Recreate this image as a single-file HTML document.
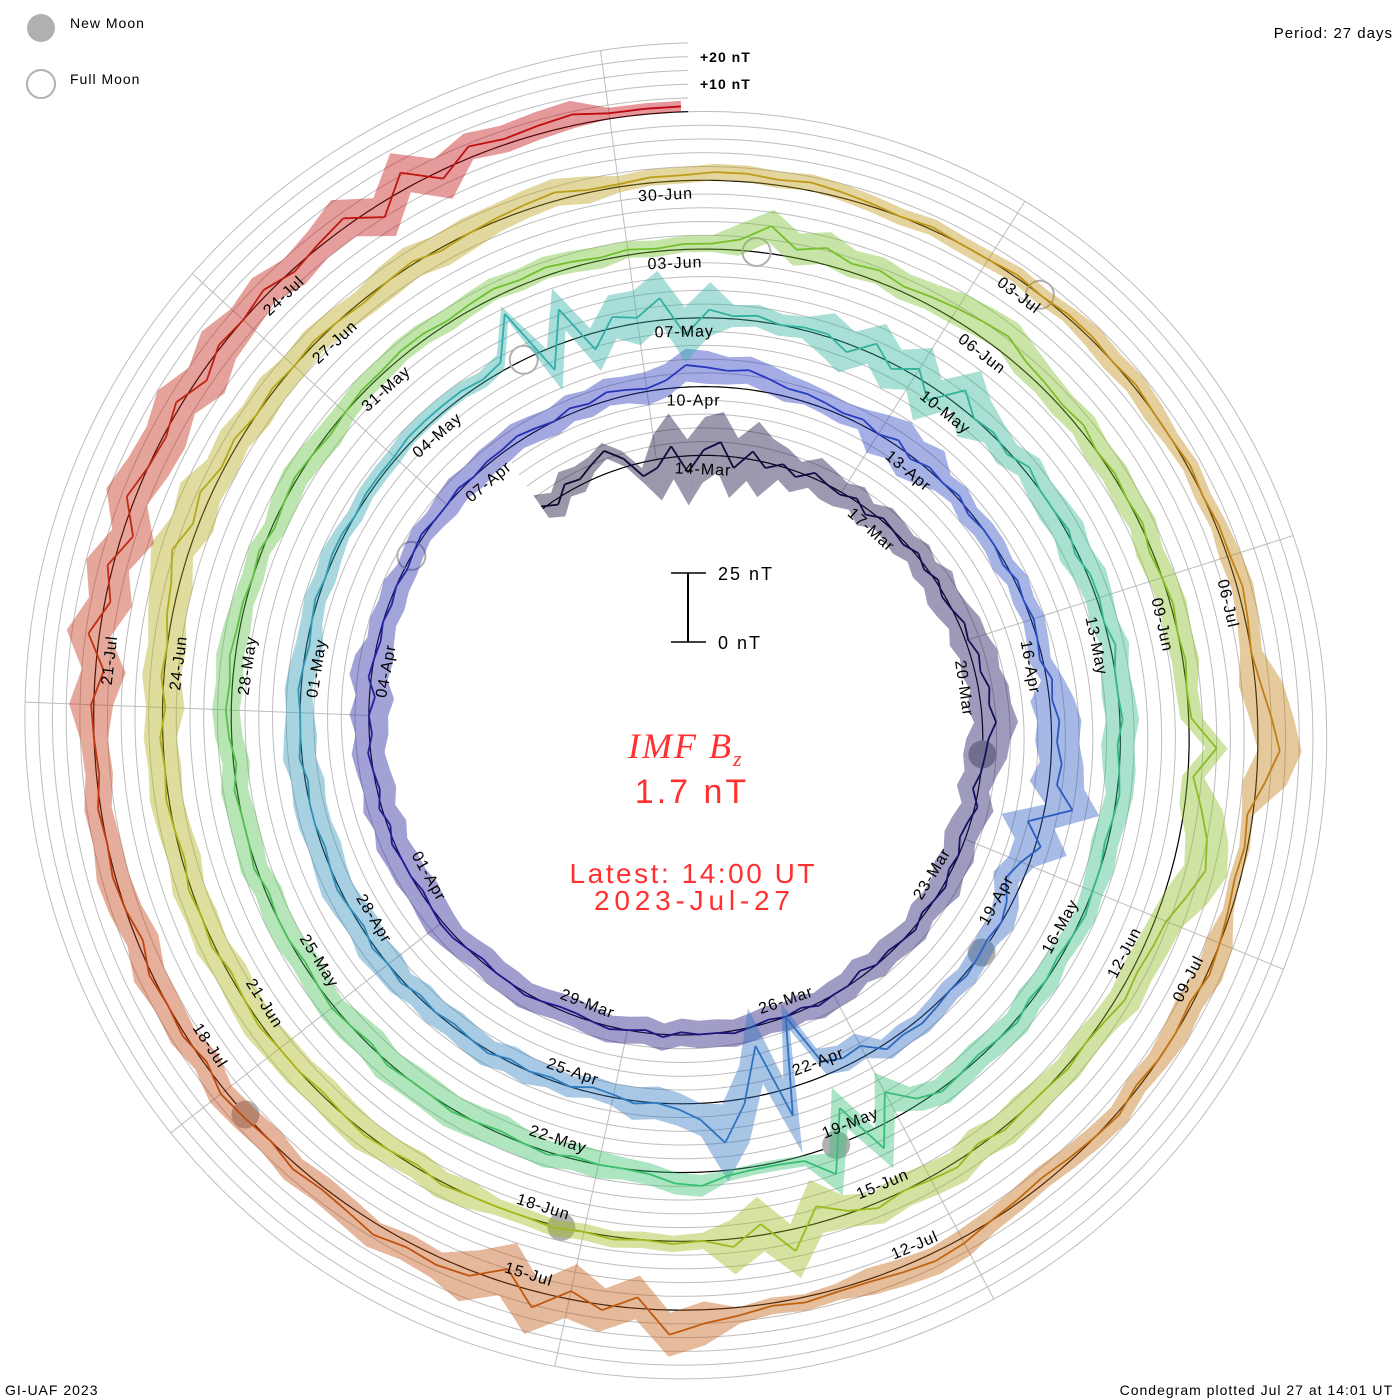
<!DOCTYPE html>
<html><head><meta charset="utf-8"><title>IMF Bz Condegram</title>
<style>
html,body{margin:0;padding:0;background:#fff;}
svg{display:block;}
text{font-family:"Liberation Sans",sans-serif;}
</style></head>
<body>
<svg id="chart" width="1400" height="1400" viewBox="0 0 1400 1400" xmlns="http://www.w3.org/2000/svg">
  <g id="grid"></g>
  <g id="radials"></g>
  <g id="baseline"></g>
  <g id="moons"></g>
  <g id="series"></g>
  <g id="labels"></g>

  <g>
    <circle cx="41" cy="28" r="14" fill="#b0b0b0"/>
    <text x="70" y="28" font-size="14" letter-spacing="1">New Moon</text>
    <circle cx="41" cy="84" r="14" fill="none" stroke="#b0b0b0" stroke-width="2"/>
    <text x="70" y="84" font-size="14" letter-spacing="1">Full Moon</text>
  </g>
  <text x="1393" y="38" font-size="15" letter-spacing="1" text-anchor="end">Period: 27 days</text>
  <text x="700" y="62" font-size="14" font-weight="bold" letter-spacing="1">+20 nT</text>
  <text x="700" y="89" font-size="14" font-weight="bold" letter-spacing="1">+10 nT</text>

  <g>
    <line x1="688" y1="573" x2="688" y2="642" stroke="#000" stroke-width="2"/>
    <line x1="671" y1="573" x2="706" y2="573" stroke="#000" stroke-width="1.5"/>
    <line x1="671" y1="642" x2="706" y2="642" stroke="#000" stroke-width="1.5"/>
    <text x="718" y="580" font-size="18" letter-spacing="2">25 nT</text>
    <text x="718" y="649" font-size="18" letter-spacing="2">0 nT</text>
  </g>

  <text x="628" y="758" style="font-family:'Liberation Serif',serif;font-style:italic" font-size="36" fill="#ff3030" letter-spacing="2">IMF B<tspan font-size="22" dy="8">z</tspan></text>
  <text x="692" y="803" font-size="34" fill="#ff3030" text-anchor="middle" letter-spacing="3">1.7 nT</text>
  <text x="692" y="883" font-size="28" fill="#ff3030" text-anchor="middle" textLength="245">Latest: 14:00 UT</text>
  <text x="692" y="910" font-size="28" fill="#ff3030" text-anchor="middle" textLength="196">2023-Jul-27</text>

  <text x="5" y="1395" font-size="14" letter-spacing="1">GI-UAF 2023</text>
  <text x="1393" y="1395" font-size="14" letter-spacing="1" text-anchor="end">Condegram plotted Jul 27 at 14:01 UT</text>
</svg>
<script>
// ---- data: IMF Bz (nT), 4 samples per day (00,06,12,18 UT), starting 2023-03-12 ----
const bzMar = [1,-2,3,2, 5,8,3,-5, -3,4,-6,2, 5,-4,3,-2, 1,-2,2,0, -1,1,-2,1, 0,-1,1,-1, 1,-1,0,2, 1,3,2,4, 3,5,2,1,
  0,-2,1,-1, -2,0,-1,1, 0,-1,1,0, -1,0,-2,0, 0,1,-1,0, -1,0,1,0, 0,-1,1,-1, 0,1,0,-1, -1,0,1,0, 0,-1,0,1];
const bzApr = [1,0,-1,0, 0,1,-1,1, -1,0,1,-1, 0,-2,1,0, -1,0,-1,0, -1,0,1,0, 0,1,0,1, 1,2,1,0, 2,1,3,2, 1,3,8,7,
  6,7,5,3, 3,2,1,2, 0,2,-1,1, 0,1,-1,0, 0,-1,1,0, 1,0,-1,2, 1,3,2,4, 3,10,-5,2, -3,-6,-2,0, -1,0,1,0,
  1,2,1,2, -4,-3,-5,-25, 10,-18,2,15, 6,2,0,1, -1,-2,0,-1, 0,-1,1,0, -1,0,-1,1, 0,1,-1,0, 1,0,-1,0, 0,-1,1,0];
const bzMay = [0,1,0,-1, 0,1,0,1, 1,0,1,1, 1,2,2,2, 2,1,3,18, -8,12,-6,4, 2,8,-6,3, 1,2,0,1, 1,-3,4,-2, 3,-5,6,0,
  1,-1,2,0, 0,1,-1,1, 1,0,2,0, 0,1,-1,0, 1,0,-1,0, 0,1,0,-1, 0,-1,1,0, -1,0,1,-2, -10,8,-12,10, 2,1,1,2,
  5,4,1,0, 0,-1,1,0, -1,0,1,0, 0,1,-1,0, 1,0,-1,0, 0,-1,1,0, 0,1,-1,1, 2,1,2,1, 1,0,1,-1, 0,1,0,-1, 0,1,1,2];
const bzJun = [2,1,2,3, 2,3,2,1, 2,1,2,2, 4,10,3,6, 3,4,2,3, 4,5,6,3, 2,1,2,0, 1,0,1,-1, 0,1,0,1, 0,1,10,2,
  6,10,12,8, 4,3,2,3, 1,0,1,0, 0,1,-1,2, 1,0,2,-1, -6,8,-4,3, 0,1,0,1, 0,1,0,0, 0,1,-1,0, 1,0,-1,0,
  0,1,0,-1, 1,0,1,-1, 0,1,0,1, -1,1,0,2, 3,6,2,4, 1,2,0,1, 0,1,0,-1, 0,1,-1,0, 1,2,3,1, 1,2,2,3];
const bzJul = [3,2,3,2, 1,0,1,0, 0,1,0,1, 1,0,1,0, 0,1,0,1, 1,2,1,0, 2,5,8,3, -2,-1,-2,-1, 0,1,-1,0, 0,-1,1,0,
  -1,-2,-1,0, 2,3,2,1, 1,2,1,3, 5,9,-4,2, -3,6,-5,2, 3,2,4,2, 1,2,0,1, 2,-1,1,0, 1,-2,0,1, 0,1,-1,0,
  1,-3,4,-2, 2,-4,3,0, -1,2,-3,1, 0,2,-1,1, 3,-5,6,-3, 4,2,3,4, 2,2,2];
// daily fluctuation half-range (nT)
const ampMar = [5,3,12,11,6,5,5,6,7,8,6,6,5,5,5,5,5,5,5,5];
const ampApr = [6,6,6,7,5,4,5,5,5,6,5,4,8,4,4,4,8,10,5,4,4,5,14,6,4,5,5,6,6,6];
const ampMay = [5,4,3,3,3,8,10,4,8,9,5,6,5,6,5,4,5,5,8,2,4,5,6,6,5,5,5,5,4,5,4];
const ampJun = [4,4,3,6,5,6,5,5,5,4,8,6,5,6,6,10,3,3,5,6,6,6,6,7,8,6,5,6,5,3];
const ampJul = [3,3,3,4,3,4,8,2,5,4,4,5,3,8,10,5,5,5,6,5,8,8,8,6,8,5,2];
const newMoons = ["2023-03-21T17:23Z","2023-04-20T04:12Z","2023-05-19T15:53Z","2023-06-18T04:37Z","2023-07-17T18:32Z"];
const fullMoons = ["2023-04-06T04:34Z","2023-05-05T17:34Z","2023-06-04T03:41Z","2023-07-03T11:38Z"];

const NS = "http://www.w3.org/2000/svg";
const CX = 693, CY = 728, R_END = 616.4;
const PX_PER_DAY = 68.8 / 27, PX_PER_NT = 68.8 / 25;
const END = Date.UTC(2023, 6, 27, 14);
const START = Date.UTC(2023, 2, 12, 0);
const K_START = (END - START) / 86400000;
const rBase = k => R_END - PX_PER_DAY * k;
const ang = k => -k / 27 * 2 * Math.PI;
const pt = (k, r) => { const a = ang(k); return [CX + r * Math.sin(a), CY - r * Math.cos(a)]; };
const kOf = iso => (END - Date.parse(iso)) / 86400000;
function mk(tag, attrs, parent) {
  const e = document.createElementNS(NS, tag);
  for (const key in attrs) e.setAttribute(key, attrs[key]);
  parent.appendChild(e); return e;
}
function spiralPath(k0, k1, off) {
  let d = "";
  for (let k = k0; k >= k1 - 1e-9; k -= 0.05) {
    const p = pt(k, rBase(k) + off);
    d += (d ? "L" : "M") + p[0].toFixed(1) + "," + p[1].toFixed(1);
  }
  return d;
}

// grid spirals
const gGrid = document.getElementById("grid");
for (let j = 1; j <= 5; j++) {
  const p = mk("path", {d: spiralPath(K_START, 0, j * 5 * PX_PER_NT), fill: "none", stroke: "#bdbdbd", "stroke-width": 1}, gGrid);
  
  
}
// radial lines
const gRad = document.getElementById("radials");
for (let n = 0; n < 9; n++) {
  const k0 = (END - Date.UTC(2023, 6, 27)) / 86400000 + 3 * n;
  let kin = k0; while (kin + 27 <= K_START) kin += 27;
  const a = pt(k0, rBase(k0) + 68.8), b = pt(kin, rBase(kin));
  const l = mk("line", {x1: a[0], y1: a[1], x2: b[0], y2: b[1], stroke: "#bdbdbd", "stroke-width": 1}, gRad);
  
  
}
// baseline
const bl = mk("path", {d: spiralPath(K_START, 0, 0), fill: "none", stroke: "#000", "stroke-width": 1.2}, document.getElementById("baseline"));



// moons
const gMoon = document.getElementById("moons");
newMoons.forEach(s => {
  const k = kOf(s), p = pt(k, rBase(k));
  const c = mk("circle", {cx: p[0], cy: p[1], r: 14, fill: "#b0b0b0"}, gMoon);
  
  
});
fullMoons.forEach(s => {
  const k = kOf(s), p = pt(k, rBase(k));
  const c = mk("circle", {cx: p[0], cy: p[1], r: 14, fill: "none", stroke: "#b0b0b0", "stroke-width": 2}, gMoon);
  
  
});

// colors along time
const stops = [[0,[16,8,48]],[20,[32,24,144]],[30,[40,56,192]],[45,[48,128,192]],[55,[48,176,168]],[70,[56,192,112]],
  [82,[112,192,48]],[100,[168,184,24]],[112,[192,152,24]],[120,[192,112,16]],[128,[192,72,16]],[138,[192,0,16]]];
function colorAt(t) {
  for (let i = 0; i < stops.length - 1; i++) {
    const [t0, c0] = stops[i], [t1, c1] = stops[i + 1];
    if (t <= t1) { const f = (t - t0) / (t1 - t0); return "rgb(" + c0.map((v, q) => Math.round(v + (c1[q] - v) * f)).join(",") + ")"; }
  }
  return "rgb(192,0,16)";
}

// series
const bz = [].concat(bzMar, bzApr, bzMay, bzJun, bzJul);
const amp = [].concat(ampMar, ampApr, ampMay, ampJun, ampJul);
const gSer = document.getElementById("series");
const P = (i, off) => { const k = K_START - i * 0.25; return pt(k, rBase(k) + (bz[i] + off) * PX_PER_NT); };
for (let i = 0; i < bz.length - 1; i++) {
  const a0 = amp[Math.floor(i / 4)], a1 = amp[Math.floor((i + 1) / 4)];
  const col = colorAt(i * 0.25);
  const p1 = P(i, a0), p2 = P(i + 1, a1), p3 = P(i + 1, -a1), p4 = P(i, -a0);
  const band = mk("polygon", {points: [p1, p2, p3, p4].map(p => p[0].toFixed(1) + "," + p[1].toFixed(1)).join(" "), fill: col, "fill-opacity": 0.42}, gSer);
  
  
  const q1 = P(i, 0), q2 = P(i + 1, 0);
  const seg = mk("line", {x1: q1[0], y1: q1[1], x2: q2[0], y2: q2[1], stroke: col, "stroke-width": 1.8}, gSer);
  
  
}

// date labels
const months = ["Jan","Feb","Mar","Apr","May","Jun","Jul","Aug"];
const gLab = document.getElementById("labels");
for (let ms = Date.UTC(2023, 2, 14); ms <= Date.UTC(2023, 6, 24); ms += 3 * 86400000) {
  const d = new Date(ms);
  const k = (END - ms) / 86400000;
  const r = rBase(k) - 13;
  const kc = k - 45 / r / (2 * Math.PI) * 27;
  const p = pt(kc, r);
  let deg = ang(kc) * 180 / Math.PI;
  deg = ((deg % 360) + 540) % 360 - 180;
  if (deg > 90) deg -= 180; else if (deg < -90) deg += 180;
  const txt = String(d.getUTCDate()).padStart(2, "0") + "-" + months[d.getUTCMonth()];
  const t = mk("text", {x: p[0].toFixed(1), y: p[1].toFixed(1), "font-size": 16, "text-anchor": "middle", "dominant-baseline": "middle", "letter-spacing": 1,
    transform: "rotate(" + deg.toFixed(1) + " " + p[0].toFixed(1) + " " + p[1].toFixed(1) + ")"}, gLab);
  t.textContent = txt;
  
  
}
</script>
</body></html>
